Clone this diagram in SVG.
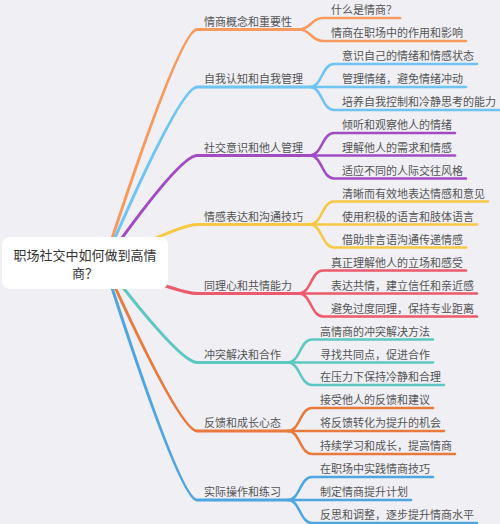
<svg xmlns="http://www.w3.org/2000/svg" width="500" height="524" viewBox="0 0 500 524">
<style>
text{font-family:"Noto Sans CJK SC","Noto Sans",sans-serif;fill:#555;font-size:11px}
.root{font-size:13px;fill:#333;text-anchor:middle}
path{fill:none;stroke-linecap:round}
.b{stroke-width:3}
.l{stroke-width:2.6}
.c0{stroke:#F79A5E}.c1{stroke:#6EC4F3}.c2{stroke:#A24CC4}.c3{stroke:#F7C844}
.c4{stroke:#EC5A6C}.c5{stroke:#5EC8C0}.c6{stroke:#E87A3C}.c7{stroke:#4EA5E0}
</style>
<rect width="500" height="524" fill="#EFEFF4"/>
<g id="connectors">
<path class="b c0" d="M104 263 Q180 29.5 197 29.5 H299"/>
<path class="l c0" d="M299 29.5 C311 29.5 311 18 323 18 H400"/>
<path class="l c0" d="M299 29.5 C311 29.5 311 41 323 41 H466"/>
<path class="b c1" d="M104 263 Q180 87 197 87 H310"/>
<path class="l c1" d="M310 87 C322 87 322 64 334 64 H477"/>
<path class="l c1" d="M310 87 H466"/>
<path class="l c1" d="M310 87 C322 87 322 110 334 110 H499"/>
<path class="b c2" d="M104 263 Q180 155.5 197 155.5 H310"/>
<path class="l c2" d="M310 155.5 C322 155.5 322 133 334 133 H455"/>
<path class="l c2" d="M310 155.5 H455"/>
<path class="l c2" d="M310 155.5 C322 155.5 322 178.5 334 178.5 H466"/>
<path class="b c3" d="M104 263 Q180 224.5 197 224.5 H310"/>
<path class="l c3" d="M310 224.5 C322 224.5 322 201.5 334 201.5 H488"/>
<path class="l c3" d="M310 224.5 H477"/>
<path class="l c3" d="M310 224.5 C322 224.5 322 247.5 334 247.5 H466"/>
<path class="b c4" d="M104 263 Q180 293.5 197 293.5 H299"/>
<path class="l c4" d="M299 293.5 C311 293.5 311 270.5 323 270.5 H466"/>
<path class="l c4" d="M299 293.5 H477"/>
<path class="l c4" d="M299 293.5 C311 293.5 311 316.5 323 316.5 H477"/>
<path class="b c5" d="M104 263 Q180 362.5 197 362.5 H288"/>
<path class="l c5" d="M288 362.5 C300 362.5 300 339.5 312 339.5 H433"/>
<path class="l c5" d="M288 362.5 H433"/>
<path class="l c5" d="M288 362.5 C300 362.5 300 385 312 385 H444"/>
<path class="b c6" d="M104 263 Q180 431 197 431 H288"/>
<path class="l c6" d="M288 431 C300 431 300 408 312 408 H433"/>
<path class="l c6" d="M288 431 H444"/>
<path class="l c6" d="M288 431 C300 431 300 454 312 454 H455"/>
<path class="b c7" d="M104 263 Q180 500 197 500 H288"/>
<path class="l c7" d="M288 500 C300 500 300 477 312 477 H433"/>
<path class="l c7" d="M288 500 H411"/>
<path class="l c7" d="M288 500 C300 500 300 523 312 523 H477"/>
</g>
<g id="root">
<rect x="2" y="237" width="166" height="52" rx="8" fill="#fff"/>
<text class="root" x="85" y="260">职场社交中如何做到高情</text>
<text class="root" x="85" y="278">商？</text>
</g>
<g id="b0"><text x="204" y="25.5">情商概念和重要性</text></g>
<g id="b0l0"><text x="331" y="14">什么是情商？</text></g>
<g id="b0l1"><text x="331" y="37">情商在职场中的作用和影响</text></g>
<g id="b1"><text x="204" y="83">自我认知和自我管理</text></g>
<g id="b1l0"><text x="342" y="60">意识自己的情绪和情感状态</text></g>
<g id="b1l1"><text x="342" y="83">管理情绪，避免情绪冲动</text></g>
<g id="b1l2"><text x="342" y="106">培养自我控制和冷静思考的能力</text></g>
<g id="b2"><text x="204" y="151.5">社交意识和他人管理</text></g>
<g id="b2l0"><text x="342" y="129">倾听和观察他人的情绪</text></g>
<g id="b2l1"><text x="342" y="151.5">理解他人的需求和情感</text></g>
<g id="b2l2"><text x="342" y="174.5">适应不同的人际交往风格</text></g>
<g id="b3"><text x="204" y="220.5">情感表达和沟通技巧</text></g>
<g id="b3l0"><text x="342" y="197.5">清晰而有效地表达情感和意见</text></g>
<g id="b3l1"><text x="342" y="220.5">使用积极的语言和肢体语言</text></g>
<g id="b3l2"><text x="342" y="243.5">借助非言语沟通传递情感</text></g>
<g id="b4"><text x="204" y="289.5">同理心和共情能力</text></g>
<g id="b4l0"><text x="331" y="266.5">真正理解他人的立场和感受</text></g>
<g id="b4l1"><text x="331" y="289.5">表达共情，建立信任和亲近感</text></g>
<g id="b4l2"><text x="331" y="312.5">避免过度同理，保持专业距离</text></g>
<g id="b5"><text x="204" y="358.5">冲突解决和合作</text></g>
<g id="b5l0"><text x="320" y="335.5">高情商的冲突解决方法</text></g>
<g id="b5l1"><text x="320" y="358.5">寻找共同点，促进合作</text></g>
<g id="b5l2"><text x="320" y="381">在压力下保持冷静和合理</text></g>
<g id="b6"><text x="204" y="427">反馈和成长心态</text></g>
<g id="b6l0"><text x="320" y="404">接受他人的反馈和建议</text></g>
<g id="b6l1"><text x="320" y="427">将反馈转化为提升的机会</text></g>
<g id="b6l2"><text x="320" y="450">持续学习和成长，提高情商</text></g>
<g id="b7"><text x="204" y="496">实际操作和练习</text></g>
<g id="b7l0"><text x="320" y="473">在职场中实践情商技巧</text></g>
<g id="b7l1"><text x="320" y="496">制定情商提升计划</text></g>
<g id="b7l2"><text x="320" y="519">反思和调整，逐步提升情商水平</text></g>
</svg>
